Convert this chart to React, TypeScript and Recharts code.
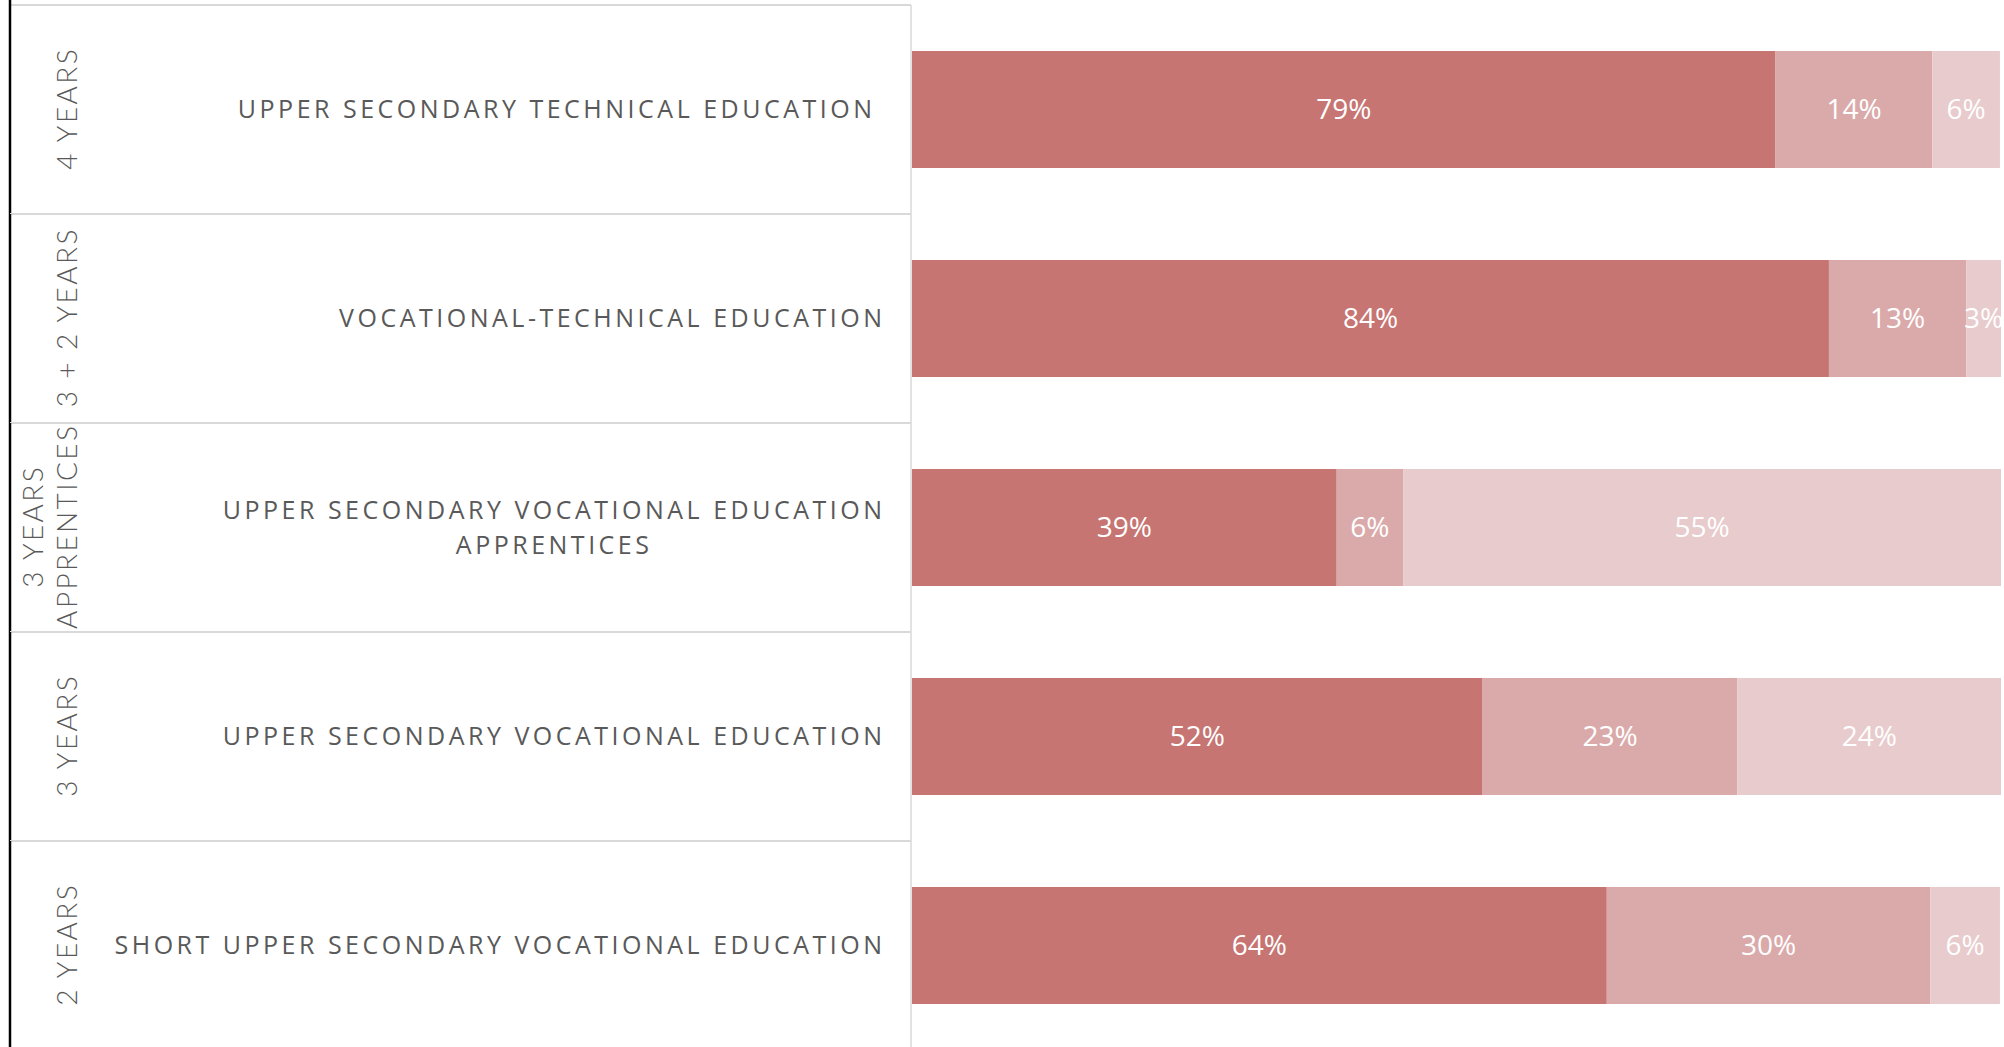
import React from 'react';
import { BarChart, Bar, XAxis, YAxis, LabelList } from 'recharts';

const categories = [
  'UPPER SECONDARY TECHNICAL EDUCATION',
  'VOCATIONAL-TECHNICAL EDUCATION',
  'UPPER SECONDARY VOCATIONAL EDUCATION APPRENTICES',
  'UPPER SECONDARY VOCATIONAL EDUCATION',
  'SHORT UPPER SECONDARY VOCATIONAL EDUCATION',
];
const categoryLines = [
  ['UPPER SECONDARY TECHNICAL EDUCATION\u00A0'],
  ['VOCATIONAL-TECHNICAL EDUCATION'],
  ['UPPER SECONDARY VOCATIONAL EDUCATION', 'APPRENTICES'],
  ['UPPER SECONDARY VOCATIONAL EDUCATION'],
  ['SHORT UPPER SECONDARY VOCATIONAL EDUCATION'],
];
const groupLines = [['4 YEARS'], ['3 + 2 YEARS'], ['3 YEARS', 'APPRENTICES'], ['3 YEARS'], ['2 YEARS']];

const seriesA = [79.3, 84.2, 39.0, 52.4, 63.8];
const seriesB = [14.4, 12.6, 6.1, 23.4, 29.7];
const seriesC = [6.2, 3.2, 54.9, 24.2, 6.4];

const data = categories.map((name, i) => ({ name, a: seriesA[i], b: seriesB[i], c: seriesC[i] }));

const W = 2004;
const H = 1050;
const TOP = 5;
const AXIS_W = 912;
const ROW_H = (H - TOP) / categories.length;

const CAT_FONT = '"Open Sans", sans-serif';
const CAT_SIZE = 25;
const CAT_LS = 3.5;
const GRP_FONT = 'Lato, sans-serif';
const GRP_SIZE = 28;
const GRP_LS = 2.4;
const TEXT_COLOR = '#595959';
const GRID = '#D9D9D9';

let measureCtx: CanvasRenderingContext2D | null = null;
function measure(text: string) {
  if (!measureCtx) {
    const c = document.createElement('canvas');
    measureCtx = c.getContext('2d');
  }
  if (!measureCtx) return text.length * CAT_SIZE * 0.6;
  measureCtx.font = `400 ${CAT_SIZE}px ${CAT_FONT}`;
  try {
    (measureCtx as any).letterSpacing = `${CAT_LS}px`;
  } catch (e) {}
  return measureCtx.measureText(text).width;
}

const pct = (v: any) => `${Math.round(Number(v))}%`;

function RowTick(props: any) {
  const { y, payload } = props;
  const idx = categories.indexOf(payload.value);
  const top = y - ROW_H / 2;
  const bottom = y + ROW_H / 2;
  const lines = categoryLines[idx] || [payload.value];
  const groups = groupLines[idx] || [];
  const rightEdge = AXIS_W - 30 + CAT_LS;
  const lineGap = 35;
  const firstW = measure(lines[0]);
  const blockCenter = rightEdge - firstW / 2;
  const grpX = groups.length === 1 ? [77] : [43, 77];
  return (
    <g>
      <line x1={10} x2={AXIS_W - 1} y1={top} y2={top} stroke={GRID} strokeWidth={2} />
      <line x1={AXIS_W - 1} x2={AXIS_W - 1} y1={top} y2={bottom} stroke={GRID} strokeWidth={1.5} />
      <line x1={10} x2={10} y1={idx === 0 ? 0 : top} y2={bottom} stroke="#000" strokeWidth={2.5} />
      {groups.map((g, k) => (
        <text
          key={k}
          x={grpX[k]}
          y={y}
          transform={`rotate(-90 ${grpX[k]} ${y})`}
          textAnchor="middle"
          fontFamily={GRP_FONT}
          fontWeight={300}
          fontSize={GRP_SIZE}
          letterSpacing={GRP_LS}
          fill={TEXT_COLOR}
          dx={GRP_LS / 2}
        >
          {g}
        </text>
      ))}
      {lines.map((l, k) => {
        const ly = y + (k - (lines.length - 1) / 2) * lineGap;
        return (
          <text
            key={k}
            x={k === 0 ? rightEdge : blockCenter}
            y={ly}
            dy="0.34em"
            textAnchor={k === 0 ? 'end' : 'middle'}
            fontFamily={CAT_FONT}
            fontSize={CAT_SIZE}
            letterSpacing={CAT_LS}
            fill={TEXT_COLOR}
          >
            {l}
          </text>
        );
      })}
    </g>
  );
}

const labelStyle = { fill: '#FFFFFF', fontSize: 28, fontFamily: CAT_FONT };

export default function App() {
  return (
    <div
      style={{
        position: 'absolute',
        left: 0,
        top: 0,
        width: W,
        height: 1047,
        overflow: 'hidden',
        background: '#fff',
      }}
    >
      <BarChart
        width={W}
        height={H}
        data={data}
        layout="vertical"
        margin={{ top: TOP, right: 3, bottom: 0, left: 0 }}
        barSize={117}
      >
        <XAxis type="number" domain={[0, 100]} hide />
        <YAxis
          type="category"
          dataKey="name"
          width={AXIS_W}
          axisLine={false}
          tickLine={false}
          interval={0}
          tick={(p: any) => <RowTick {...p} />}
        />
        <Bar dataKey="a" stackId="s" fill="#C67572" isAnimationActive={false}>
          <LabelList dataKey="a" position="center" formatter={pct} style={labelStyle} />
        </Bar>
        <Bar dataKey="b" stackId="s" fill="#DAAAAA" isAnimationActive={false}>
          <LabelList dataKey="b" position="center" formatter={pct} style={labelStyle} />
        </Bar>
        <Bar dataKey="c" stackId="s" fill="#E8CBCC" isAnimationActive={false}>
          <LabelList dataKey="c" position="center" formatter={pct} style={labelStyle} />
        </Bar>
      </BarChart>
    </div>
  );
}
